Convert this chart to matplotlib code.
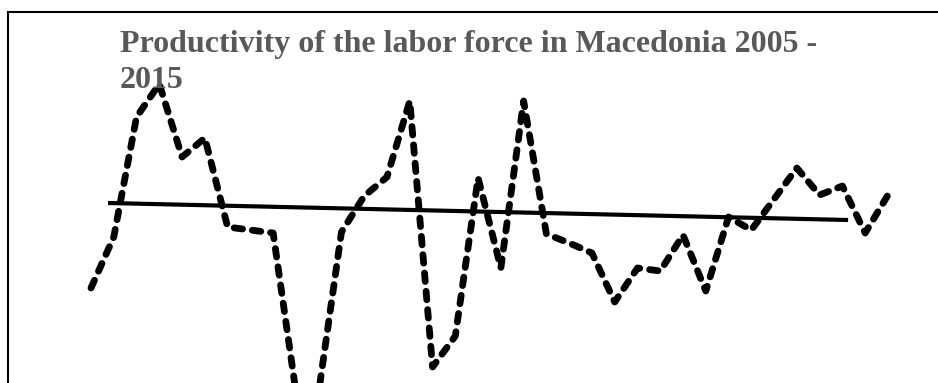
import matplotlib
matplotlib.use("Agg")
import matplotlib.pyplot as plt
from matplotlib.lines import Line2D
import numpy as np

# ---- data ----
periods = list(range(1, 37))
productivity = [1.2, 6.3, 18.3, 21.6, 14.3, 16.2, 7.3, 7.0, 6.7, -9.2,
                -9.2, 6.8, 10.4, 12.3, 19.9, -6.7, -3.6, 12.2, 3.2, 19.9,
                6.6, 5.7, 4.7, -0.2, 3.2, 2.9, 6.5, 0.9, 8.3, 7.0,
                10.1, 13.2, 10.5, 11.4, 6.7, 10.5]
trend_x = [1.75, 34.25]
trend_y = [9.7, 8.0]
title_line1 = "Productivity of the labor force in Macedonia 2005 -"
title_line2 = "2015"

W, H = 938, 383
fig = plt.figure(figsize=(W / 100, H / 100), dpi=100)
fig.patch.set_facecolor("white")

ax = fig.add_axes([0, 0, 1, 1])
ax.set_axis_off()

# map periods so that first point is at x=91px and spacing is 22.77px
x0_px, step_px = 91.0, 22.77
first = periods[0]
ax.set_xlim(first - x0_px / step_px, first + (W - x0_px) / step_px)
ax.set_ylim(-8.3, 30.0)

ax.plot(periods, productivity, color="black", lw=4.9,
        linestyle=(0, (1.25, 1.45)), dash_capstyle="round",
        solid_joinstyle="round", zorder=3)
ax.plot(trend_x, trend_y, color="black", lw=3.0, solid_capstyle="butt", zorder=2)

# frame: top and left borders only
fig.add_artist(Line2D([7.5 / W, 1.0], [1 - 12 / H, 1 - 12 / H],
                      transform=fig.transFigure, color="black", lw=1.5))
fig.add_artist(Line2D([7.5 / W, 7.5 / W], [0, 1 - 12 / H],
                      transform=fig.transFigure, color="black", lw=1.5))

title_kw = dict(fontsize=23.0, fontweight="bold", color="#595959",
                family=["Liberation Serif", "DejaVu Serif"],
                ha="left", va="baseline", transform=fig.transFigure, zorder=1)
fig.text(120 / W, 1 - 52 / H, title_line1, **title_kw)
fig.text(120 / W, 1 - 88 / H, title_line2, **title_kw)

fig.savefig("out.png", dpi=100, facecolor="white")
